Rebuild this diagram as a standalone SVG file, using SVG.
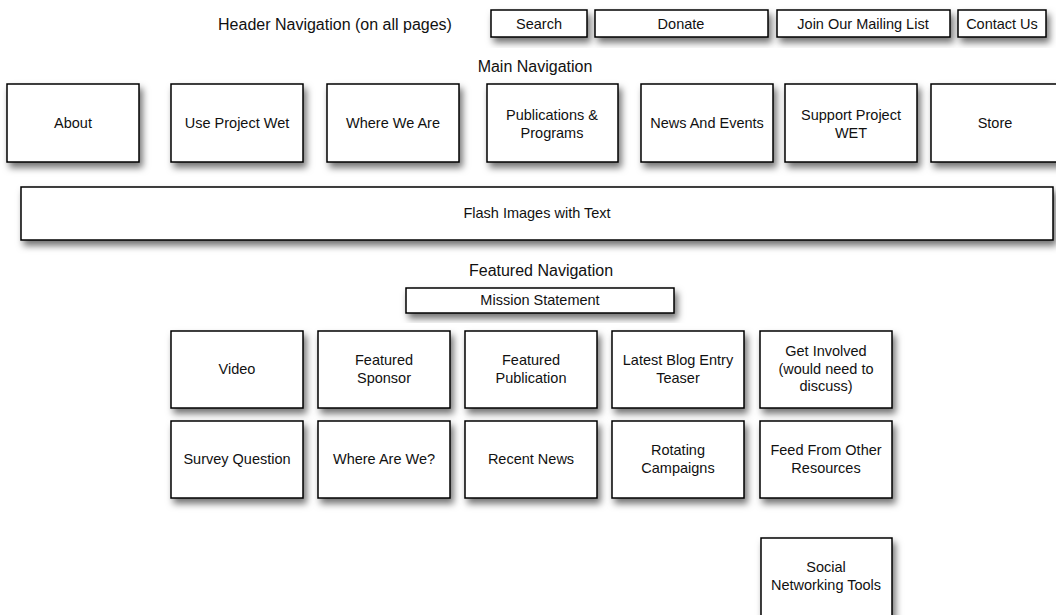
<svg xmlns="http://www.w3.org/2000/svg" width="1056" height="615" viewBox="0 0 1056 615">
<defs>
<filter id="sh" x="-20%" y="-20%" width="140%" height="160%">
<feDropShadow dx="3" dy="5" stdDeviation="3.5" flood-color="#000" flood-opacity="0.55"/>
</filter>
<style>
.b{fill:#fff;stroke:#000;stroke-width:1.5;filter:url(#sh)}
.t{font-family:"Liberation Sans",Arial,sans-serif;font-size:14.5px;fill:#111;text-anchor:middle}
.h{font-family:"Liberation Sans",Arial,sans-serif;font-size:16px;fill:#111;text-anchor:middle}
</style>
</defs>
<rect width="1056" height="615" fill="#fff"/>
<g id="labels">
<text class="h" x="335" y="30">Header Navigation (on all pages)</text>
<text class="h" x="535" y="72">Main Navigation</text>
<text class="h" x="541" y="276">Featured Navigation</text>
</g>
<g id="header">
<g id="search"><rect class="b" x="491" y="10" width="96" height="27"/><text class="t" x="539" y="29">Search</text></g>
<g id="donate"><rect class="b" x="595" y="10" width="173" height="27"/><text class="t" x="681" y="29">Donate</text></g>
<g id="mailing"><rect class="b" x="777" y="10" width="173" height="27"/><text class="t" x="863" y="29">Join Our Mailing List</text></g>
<g id="contact"><rect class="b" x="958" y="10" width="88" height="27"/><text class="t" x="1002" y="29">Contact Us</text></g>
</g>
<g id="main">
<g id="about"><rect class="b" x="7" y="84" width="132" height="78"/><text class="t" x="73" y="128">About</text></g>
<g id="use"><rect class="b" x="171" y="84" width="132" height="78"/><text class="t" x="237" y="128">Use Project Wet</text></g>
<g id="where"><rect class="b" x="327" y="84" width="132" height="78"/><text class="t" x="393" y="128">Where We Are</text></g>
<g id="pubs"><rect class="b" x="487" y="84" width="131" height="78"/><text class="t" x="552" y="120">Publications &amp;</text><text class="t" x="552" y="138">Programs</text></g>
<g id="news"><rect class="b" x="641" y="84" width="132" height="78"/><text class="t" x="707" y="128">News And Events</text></g>
<g id="support"><rect class="b" x="785" y="84" width="132" height="78"/><text class="t" x="851" y="120">Support Project</text><text class="t" x="851" y="138">WET</text></g>
<g id="store"><rect class="b" x="931" y="84" width="132" height="78"/><text class="t" x="995" y="128">Store</text></g>
</g>
<g id="flash"><rect class="b" x="21" y="187" width="1032" height="53"/><text class="t" x="537" y="218">Flash Images with Text</text></g>
<g id="mission"><rect class="b" x="406" y="288" width="268" height="25"/><text class="t" x="540" y="305">Mission Statement</text></g>
<g id="featured">
<g id="video"><rect class="b" x="171" y="331" width="132" height="77"/><text class="t" x="237" y="374">Video</text></g>
<g id="sponsor"><rect class="b" x="318" y="331" width="132" height="77"/><text class="t" x="384" y="365">Featured</text><text class="t" x="384" y="383">Sponsor</text></g>
<g id="publication"><rect class="b" x="465" y="331" width="132" height="77"/><text class="t" x="531" y="365">Featured</text><text class="t" x="531" y="383">Publication</text></g>
<g id="blog"><rect class="b" x="612" y="331" width="132" height="77"/><text class="t" x="678" y="365">Latest Blog Entry</text><text class="t" x="678" y="383">Teaser</text></g>
<g id="involved"><rect class="b" x="760" y="331" width="132" height="77"/><text class="t" x="826" y="356">Get Involved</text><text class="t" x="826" y="374">(would need to</text><text class="t" x="826" y="391">discuss)</text></g>
<g id="survey"><rect class="b" x="171" y="421" width="132" height="77"/><text class="t" x="237" y="464">Survey Question</text></g>
<g id="whereare"><rect class="b" x="318" y="421" width="132" height="77"/><text class="t" x="384" y="464">Where Are We?</text></g>
<g id="recent"><rect class="b" x="465" y="421" width="132" height="77"/><text class="t" x="531" y="464">Recent News</text></g>
<g id="rotating"><rect class="b" x="612" y="421" width="132" height="77"/><text class="t" x="678" y="455">Rotating</text><text class="t" x="678" y="473">Campaigns</text></g>
<g id="feed"><rect class="b" x="760" y="421" width="132" height="77"/><text class="t" x="826" y="455">Feed From Other</text><text class="t" x="826" y="473">Resources</text></g>
<g id="social"><rect class="b" x="761" y="538" width="131" height="90"/><text class="t" x="826" y="572">Social</text><text class="t" x="826" y="590">Networking Tools</text></g>
</g>
<g id="connectors"></g>
</svg>
